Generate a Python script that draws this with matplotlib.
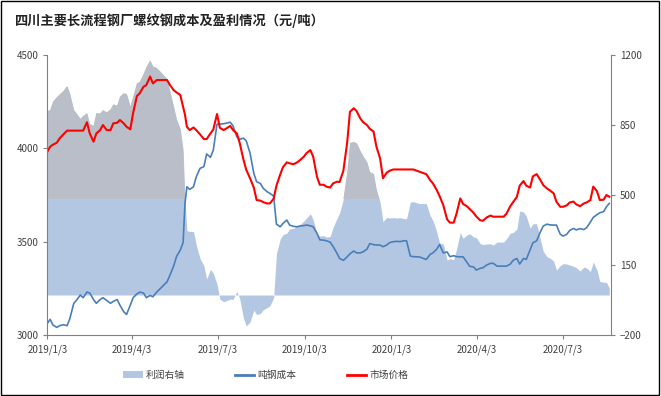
import matplotlib
matplotlib.use("Agg")
import matplotlib.pyplot as plt
from matplotlib.patches import Patch, Rectangle
from matplotlib.lines import Line2D
import numpy as np
import pandas as pd

plt.rcParams["font.family"] = ["Noto Sans CJK SC", "DejaVu Sans"]

TITLE = "四川主要长流程钢厂螺纹钢成本及盈利情况（元/吨）"
START = "2019-01-03"

# days since 2019/1/3
day_offsets = [
    0, 3, 6, 10, 13, 17, 21, 24, 28, 31, 35, 38, 42, 45, 49, 52, 56, 59, 63, 67,
    70, 74, 77, 81, 84, 88, 91, 95, 98, 102, 105, 109, 112, 116, 120, 123, 127, 130, 134, 137, 141,
    144, 146, 148, 151, 155, 158, 162, 166, 169, 173, 176, 180, 183, 187, 190, 194, 197, 201, 204, 208,
    211, 215, 219, 222, 226, 229, 233, 236, 240, 243, 247, 250, 254, 257, 261, 265, 268, 272, 275, 279,
    282, 286, 289,
    293, 296, 300, 303, 307, 310, 314, 318, 321, 325, 328, 332, 335, 339, 342, 346, 349, 353, 356, 360,
    363, 367, 371, 374, 378, 381, 385, 388, 392, 395, 399, 402, 406, 409, 413, 416, 420, 424, 427, 431,
    434, 438,
    441, 445, 448, 452, 455, 459, 462, 466, 470, 473, 477, 480, 484, 487, 491, 494, 498, 501, 505, 508,
    512, 515, 519, 523, 526, 530, 533, 537, 540, 544, 547, 551, 554, 558, 561, 565, 569, 572, 576, 579,
    583, 586, 590, 593, 596,
]

# 市场价格 (left axis)
price = [
    3982, 4009, 4020, 4030, 4053, 4075, 4095, 4095, 4095, 4095, 4095, 4095, 4140, 4080, 4036, 4080, 4098, 4125, 4098, 4098,
    4134, 4137, 4152, 4134, 4116, 4102, 4190, 4280, 4295, 4330, 4339, 4385, 4348, 4366, 4366, 4366, 4366, 4340, 4312, 4300, 4286,
    4223, 4180, 4116, 4098, 4112, 4098, 4075, 4050, 4050, 4080, 4100, 4184, 4110, 4098, 4107, 4120, 4098, 4080, 4030, 3940,
    3885, 3840, 3790, 3723, 3720, 3712, 3705, 3705, 3730, 3800, 3860, 3900, 3925, 3920, 3915, 3925, 3937, 3955, 3975, 3991,
    3955, 3848, 3805,
    3805, 3795, 3790, 3812, 3821, 3820, 3880, 4030, 4196, 4215, 4200, 4160, 4140, 4125, 4105, 4090, 4010, 3945, 3840, 3870,
    3880, 3887, 3887, 3887, 3887, 3887, 3887, 3887, 3880, 3875, 3868, 3862, 3830, 3812, 3777, 3745, 3695, 3620, 3602, 3602,
    3650, 3732,
    3702, 3690, 3675, 3655, 3635, 3615, 3612, 3630, 3640, 3634, 3634, 3634, 3634, 3650, 3690, 3712, 3740, 3800, 3825, 3800,
    3790, 3850, 3862, 3830, 3803, 3785, 3775, 3759, 3714, 3687, 3687, 3695, 3710, 3715, 3700, 3690, 3705, 3710, 3723, 3795,
    3770, 3723, 3725, 3750, 3741,
]

# 吨钢成本 (left axis)
cost = [
    3062, 3084, 3053, 3041, 3050, 3055, 3050, 3090, 3169, 3187, 3214, 3200, 3230, 3225, 3190, 3170, 3190, 3200, 3185, 3170,
    3180, 3190, 3160, 3125, 3110, 3160, 3200, 3220, 3230, 3225, 3200, 3212, 3205, 3230, 3250, 3265, 3285, 3320, 3370, 3420, 3455,
    3495, 3705, 3794, 3780, 3794, 3848, 3893, 3902, 3970, 3952, 3990, 4130, 4130, 4132, 4135, 4140, 4120, 4062, 4048, 4055,
    4040, 3975, 3866, 3821, 3812, 3786, 3768, 3759, 3745, 3594, 3580, 3598, 3616, 3589, 3582, 3580, 3584, 3586, 3589, 3585,
    3580, 3545, 3510,
    3508, 3505, 3497, 3475, 3440, 3410, 3400, 3419, 3435, 3450, 3440, 3440, 3446, 3460, 3490, 3484, 3482, 3482, 3473, 3482,
    3495, 3500, 3502, 3500, 3505, 3505, 3423, 3420, 3419, 3418, 3410, 3405, 3432, 3440, 3460, 3485, 3440, 3445, 3420, 3425,
    3420, 3419,
    3419, 3390, 3368, 3365, 3348, 3357, 3360, 3375, 3384, 3384, 3369, 3369, 3369, 3369, 3380, 3400, 3410, 3380, 3410, 3405,
    3455, 3494, 3505, 3553, 3584, 3594, 3590, 3589, 3589, 3540, 3530, 3540, 3560, 3571, 3563, 3570, 3565, 3575, 3605, 3630,
    3645, 3655, 3661, 3687, 3705,
]

LEGEND = ["利润右轴", "吨钢成本", "市场价格"]

dates = pd.Timestamp(START) + pd.to_timedelta(day_offsets, unit="D")
price = np.array(price, dtype=float)
cost = np.array(cost, dtype=float)
profit = price - cost  # 利润 = 市场价格 - 吨钢成本

fig = plt.figure(figsize=(6.61, 3.96), dpi=100)
ax1 = fig.add_axes([0.0716, 0.154, 0.8524, 0.707])
ax2 = ax1.twinx()
ax1.set_zorder(ax2.get_zorder() + 1)
ax1.patch.set_visible(False)

area_color = "#b4c7e2"
gray_color = "#b9bec8"
ax2.fill_between(dates, 0, profit, color=area_color, linewidth=0)
ax2.fill_between(dates, 480, profit, where=profit > 480, interpolate=True,
                 color=gray_color, linewidth=0)

ax1.plot(dates, cost, color="#4a7ebb", linewidth=1.2)
ax1.plot(dates, price, color="#ff0000", linewidth=1.5)

x0 = pd.Timestamp(START)
ax1.set_xlim(x0, x0 + pd.Timedelta(days=597.6))
ax1.set_ylim(3000, 4500)
ax2.set_ylim(-200, 1200)
ax1.set_yticks([3000, 3500, 4000, 4500])
ax2.set_yticks([-200, 150, 500, 850, 1200])

xticks = pd.date_range(START, periods=7, freq=pd.DateOffset(months=3))
ax1.set_xticks(xticks)
ax1.set_xticklabels([f"{d.year}/{d.month}/{d.day}" for d in xticks])

for ax in (ax1, ax2):
    ax.spines["top"].set_visible(False)
    for s in ("left", "right", "bottom"):
        ax.spines[s].set_color("#808080")
    ax.tick_params(labelsize=7, colors="#404040", length=3, direction="out")
    ax.tick_params(axis="both", color="#808080")
ax2.spines["left"].set_visible(False)
ax1.spines["right"].set_visible(False)
ax2.spines["bottom"].set_visible(False)

fig.text(0.023, 0.947, TITLE, fontsize=9.5, fontweight="bold", color="#222222",
         va="center", ha="left")

handles = [
    Patch(facecolor=area_color, edgecolor="none"),
    Line2D([], [], color="#4a7ebb", linewidth=2),
    Line2D([], [], color="#ff0000", linewidth=2),
]
fig.legend(handles, LEGEND, loc="center", bbox_to_anchor=(0.402, 0.053), ncol=3,
           frameon=False, fontsize=7, columnspacing=5.2, handlelength=2.0,
           handletextpad=0.3, labelcolor="#404040")

fig.add_artist(Rectangle((0.002, 0.003), 0.995, 0.994, transform=fig.transFigure,
                         fill=False, edgecolor="#000000", linewidth=1.0))

fig.savefig("out.png", dpi=100)
